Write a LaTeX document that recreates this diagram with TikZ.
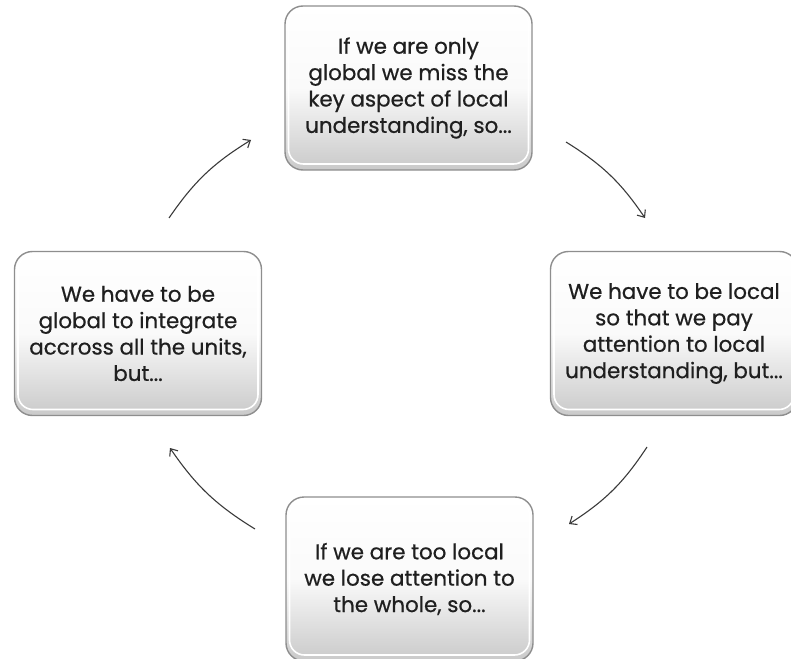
\documentclass[tikz,border=0pt]{standalone}
\usepackage{fontspec}
\setmainfont{Poppins}[FakeBold=0.6]
\usetikzlibrary{arrows.meta}
\definecolor{arrowgray}{HTML}{3A3A3A}
\definecolor{rimgray}{HTML}{8E8E8E}
\tikzset{
  cyclebox/.style={
    draw=rimgray, line width=1.4bp, rounded corners=18bp,
    top color=white, bottom color=gray!42, middle color=white!96!gray,
    minimum width=247bp, minimum height=164bp, inner sep=0pt,
    align=center, text=black!88,
    font=\fontsize{21.5}{26.5}\selectfont,
    path picture={
      \draw[white, line width=1.6bp, rounded corners=15bp]
        ([shift={(3.5bp,-3.5bp)}]path picture bounding box.north west)
        rectangle ([shift={(-3.5bp,6bp)}]path picture bounding box.south east);
    }
  },
  cyclearrow/.style={
    draw=arrowgray, line width=1.1bp,
    -{Straight Barb[length=6bp,width=10bp]}, bend left=12
  }
}
\begin{document}
\begin{tikzpicture}[x=1bp,y=-1bp]
\useasboundingbox (0,0) rectangle (791,659);
\node[cyclebox] (top) at (408.5,88) {If we are only\\global we miss the\\key aspect of local\\understanding, so...};
\node[cyclebox] (right) at (674,333.5) {We have to be local\\so that we pay\\attention to local\\understanding, but...};
\node[cyclebox] (bottom) at (409.5,579) {If we are too local\\we lose attention to\\the whole, so...};
\node[cyclebox] (left) at (138,333.5) {We have to be\\global to integrate\\accross all the units,\\but...};
\coordinate (a1s) at (169,218); \coordinate (a1e) at (251,140);
\coordinate (a2s) at (566,142); \coordinate (a2e) at (645,218);
\coordinate (a3s) at (647,447); \coordinate (a3e) at (569,524);
\coordinate (a4s) at (255,529); \coordinate (a4e) at (170,448);
\draw[cyclearrow] (a1s) to (a1e);
\draw[cyclearrow] (a2s) to (a2e);
\draw[cyclearrow] (a3s) to (a3e);
\draw[cyclearrow] (a4s) to (a4e);
\end{tikzpicture}
\end{document}
